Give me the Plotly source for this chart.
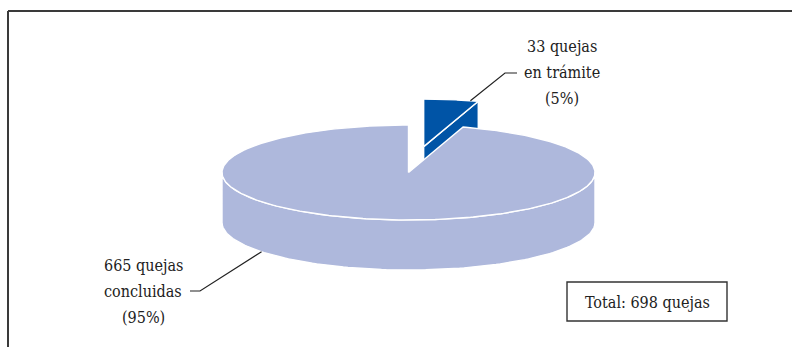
import numpy as np
import plotly.graph_objects as go

# Complaint counts by status (first slice starts at 12 o'clock, clockwise)
categories = ["en trámite", "concluidas"]
counts = [33, 665]
percents = [5, 95]
total_label = "Total: 698 quejas"

# Pie geometry in pixel space
CX, CY = 408.5, 172.5      # centre of the top face
RA, RB = 186.5, 47.5       # ellipse semi-axes of the tilted disc
DEPTH = 50                 # thickness of the disc
PULL = 0.55                # explode fraction for the first slice

LAVENDER = "#AEB8DC"
BLUE = "#0054A6"
EDGE = "white"
FONT = "DejaVu Serif Condensed, DejaVu Serif, serif"


def rim(cx, cy, theta, drop=0.0):
    t = np.radians(theta)
    return cx + RA * np.sin(t), cy - RB * np.cos(t) + drop


def arc(cx, cy, t0, t1, drop=0.0, n=120):
    th = np.linspace(t0, t1, n)
    x, y = rim(cx, cy, th, drop)
    return list(x), list(y)


total = sum(counts)
angles = np.cumsum([0] + [c / total * 360 for c in counts])
a0, a1 = angles[0], angles[1]   # small slice
mid = (a0 + a1) / 2

# exploded centre of the small slice
ex = CX + PULL * RA * np.sin(np.radians(mid))
ey = CY - PULL * RB * np.cos(np.radians(mid))

fig = go.Figure()


def poly(xs, ys, color, lw=1.4):
    fig.add_trace(go.Scatter(
        x=xs + [xs[0]], y=ys + [ys[0]], mode="lines", fill="toself",
        fillcolor=color, line=dict(color=EDGE, width=lw),
        hoverinfo="skip", showlegend=False))


# --- small slice (drawn first, sits behind) ---
r1x, r1y = rim(ex, ey, a1)
poly([ex, r1x, r1x, ex], [ey, r1y, r1y + DEPTH, ey + DEPTH], BLUE)
tx, ty = arc(ex, ey, a0, a1)
poly([ex] + tx, [ey] + ty, BLUE)

# --- large slice: front side wall ---
fx, fy = arc(CX, CY, 90, 270)
bx, by = arc(CX, CY, 270, 90, drop=DEPTH)
poly(fx + bx, fy + by, LAVENDER)

# --- large slice: top face ---
mx, my = arc(CX, CY, a1, angles[2], n=400)
poly([CX] + mx, [CY] + my, LAVENDER)

# --- labels ---
def lines_for(i):
    return [f"{counts[i]} quejas", categories[i], f"({percents[i]}%)"]


ann = []
for txt, y in zip(lines_for(0), [46, 72, 98]):
    ann.append(dict(x=562, y=y, text=txt))
for txt, y in zip(lines_for(1), [265, 291, 317]):
    ann.append(dict(x=143, y=y, text=txt))
ann.append(dict(x=647, y=302, text=total_label))
annotations = [dict(a, xref="x", yref="y", showarrow=False, xanchor="center",
                    yanchor="middle", font=dict(family=FONT, size=16, color="#222"))
               for a in ann]

# leader lines
lx0, ly0 = rim(ex, ey, mid + 6)
fig.add_trace(go.Scatter(x=[lx0, 505, 517], y=[ly0, 73, 73], mode="lines",
                         line=dict(color="#222", width=1.2), hoverinfo="skip",
                         showlegend=False))
bx0, by0 = rim(CX, CY, 232, drop=DEPTH)
fig.add_trace(go.Scatter(x=[bx0, 200, 190], y=[by0, 291, 291], mode="lines",
                         line=dict(color="#222", width=1.2), hoverinfo="skip",
                         showlegend=False))

shapes = [
    # frame: top and left rules
    dict(type="line", xref="x", yref="y", x0=8, y0=11, x1=792, y1=11,
         line=dict(color="#3a3a3a", width=2)),
    dict(type="line", xref="x", yref="y", x0=8, y0=11, x1=8, y1=347,
         line=dict(color="#3a3a3a", width=2)),
    # total box
    dict(type="rect", xref="x", yref="y", x0=567, y0=282, x1=727, y1=321,
         line=dict(color="#333", width=1.4), fillcolor="white"),
]

fig.update_layout(
    width=792, height=347,
    margin=dict(l=0, r=0, t=0, b=0),
    paper_bgcolor="white", plot_bgcolor="white",
    font=dict(family=FONT),
    xaxis=dict(range=[0, 792], visible=False, fixedrange=True),
    yaxis=dict(range=[347, 0], visible=False, fixedrange=True),
    shapes=shapes, annotations=annotations,
)

fig.write_html("out.html")
